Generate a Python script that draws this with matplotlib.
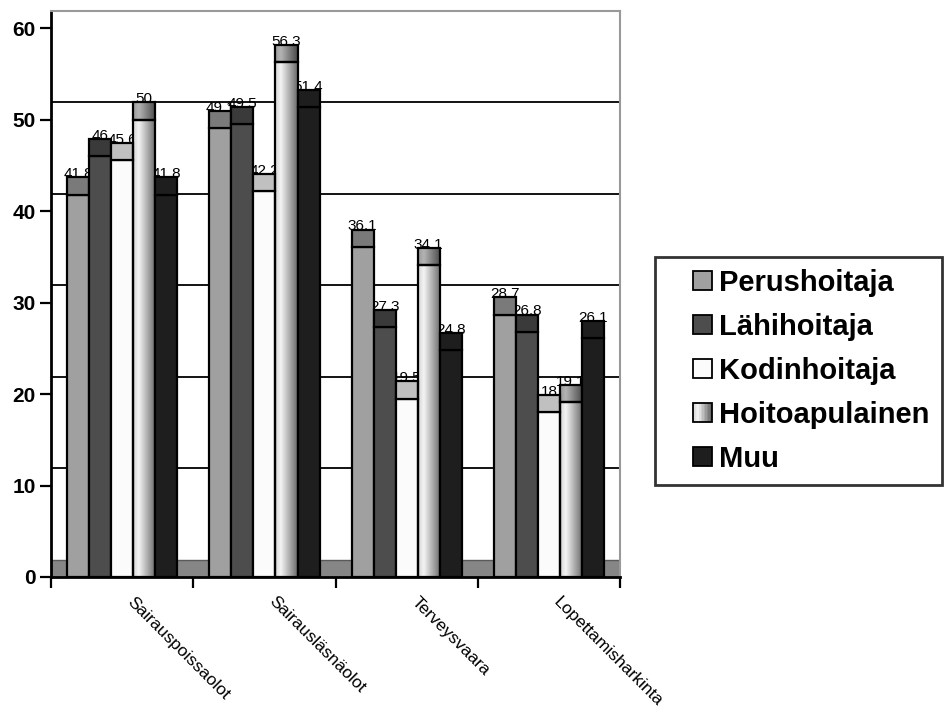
import numpy as np
import matplotlib
matplotlib.use("Agg")
import matplotlib.pyplot as plt
import matplotlib.transforms as mtransforms
from matplotlib.patches import Rectangle
from matplotlib.colors import LinearSegmentedColormap
from matplotlib.legend_handler import HandlerBase

plt.rcParams['font.family'] = ['Liberation Sans', 'DejaVu Sans']

# Data
categories = ['Sairauspoissaolot', 'Sairausläsnäolot', 'Terveysvaara', 'Lopettamisharkinta']
groups = ['Perushoitaja', 'Lähihoitaja', 'Kodinhoitaja', 'Hoitoapulainen', 'Muu']
perushoitaja = [41.8, 49.1, 36.1, 28.7]
lahihoitaja = [46, 49.5, 27.3, 26.8]
kodinhoitaja = [45.6, 42.2, 19.5, 18]
hoitoapulainen = [50, 56.3, 34.1, 19.1]
muu = [41.8, 51.4, 24.8, 26.1]
series = [perushoitaja, lahihoitaja, kodinhoitaja, hoitoapulainen, muu]

front_colors = ['#a0a0a0', '#4d4d4d', '#fbfbfb', None, '#1e1e1e']
cap_colors = ['#7a7a7a', '#3a3a3a', '#c0c0c0', None, '#1e1e1e']

depth = 1.9          # pseudo 3D depth of the chart
bar_w = 0.155
start = 0.113

grad_front = LinearSegmentedColormap.from_list(
    'gf', [(0, '#d5d5d5'), (0.25, '#f4f4f4'), (1, '#6a6a6a')])
grad_cap = LinearSegmentedColormap.from_list(
    'gc', [(0, '#9a9a9a'), (0.25, '#b4b4b4'), (1, '#4a4a4a')])
grad = np.linspace(0, 1, 64).reshape(1, -1)

fig = plt.figure(figsize=(9.51, 7.19), dpi=100)
ax = fig.add_axes([51 / 951, 1 - 577 / 719, (620 - 51) / 951, (577 - 11) / 719])

# back wall gridlines and floor
for g in range(10, 60, 10):
    ax.axhline(g + depth, color='black', lw=1.3, zorder=1)
ax.axhspan(0, depth, color='#868686', zorder=1, lw=0)
ax.axhline(depth, color='#5a5a5a', lw=1, zorder=1)

lw = 1.6
for j, vals in enumerate(series):
    for i, v in enumerate(vals):
        x0 = i + start + j * bar_w
        if front_colors[j] is None:
            ax.imshow(grad, cmap=grad_front, extent=[x0, x0 + bar_w, 0, v],
                      aspect='auto', interpolation='bilinear', zorder=3)
            ax.imshow(grad, cmap=grad_cap, extent=[x0, x0 + bar_w, v, v + depth],
                      aspect='auto', interpolation='bilinear', zorder=3)
            fc, cc = 'none', 'none'
        else:
            fc, cc = front_colors[j], cap_colors[j]
        ax.add_patch(Rectangle((x0, 0), bar_w, v, facecolor=fc,
                               edgecolor='black', lw=lw, zorder=4))
        ax.add_patch(Rectangle((x0, v), bar_w, depth, facecolor=cc,
                               edgecolor='black', lw=lw, zorder=4))
        label = ('%g' % v).replace('.', ',')
        ax.text(x0 + bar_w / 2, v + depth - 0.1, label, ha='center', va='baseline',
                fontsize=11, zorder=2)

ax.set_xlim(0, 4)
ax.set_ylim(0, 60 + depth)
ax.set_yticks(range(0, 61, 10))
ax.set_yticklabels([str(t) for t in range(0, 61, 10)], fontsize=15, fontweight='bold')
ax.set_xticks(range(0, 5))
ax.set_xticklabels([])
ax.tick_params(axis='both', direction='out', length=8, width=1.6, pad=3)

for s in ['left', 'bottom']:
    ax.spines[s].set_linewidth(2)
    ax.spines[s].set_color('black')
for s in ['top', 'right']:
    ax.spines[s].set_linewidth(1.5)
    ax.spines[s].set_color('#999999')

trans = mtransforms.blended_transform_factory(ax.transData, ax.transAxes)
for i, cat in enumerate(categories):
    ax.annotate(cat, xy=(i + 0.5, 0), xycoords=trans, xytext=(5, -16),
                textcoords='offset points', rotation=-45, rotation_mode='anchor',
                ha='left', va='center', fontsize=12.5)


class SquareHandler(HandlerBase):
    """Small square marker drawn at the right end of the handle box."""
    def __init__(self, gradient=False):
        super().__init__()
        self.gradient = gradient

    def create_artists(self, legend, orig_handle, xdescent, ydescent,
                       width, height, fontsize, trans):
        s = height
        x = -xdescent + width - s
        y = -ydescent
        arts = []
        if self.gradient:
            n = 12
            for k in range(n):
                arts.append(Rectangle((x + k * s / n, y), s / n, s,
                                      facecolor=grad_front(k / (n - 1)), lw=0,
                                      transform=trans))
            face = 'none'
        else:
            face = orig_handle.get_facecolor()
        arts.append(Rectangle((x, y), s, s, facecolor=face, edgecolor='black',
                              lw=1.3, transform=trans))
        return arts


handles = []
hmap = {}
for j, name in enumerate(groups):
    h = Rectangle((0, 0), 1, 1, facecolor=front_colors[j] or '#cccccc')
    handles.append(h)
    hmap[h] = SquareHandler(gradient=front_colors[j] is None)

leg = fig.legend(handles, groups, loc='upper left',
                 bbox_to_anchor=(655 / 951, 1 - 257 / 719),
                 prop={'size': 21, 'weight': 'bold'}, frameon=True, fancybox=False,
                 handlelength=1.54, handleheight=0.62, handletextpad=0.27,
                 labelspacing=0.55, borderpad=0.4, borderaxespad=0,
                 handler_map=hmap)
leg.get_frame().set_edgecolor('black')
leg.get_frame().set_linewidth(2)

fig.savefig('out.png', dpi=100)
